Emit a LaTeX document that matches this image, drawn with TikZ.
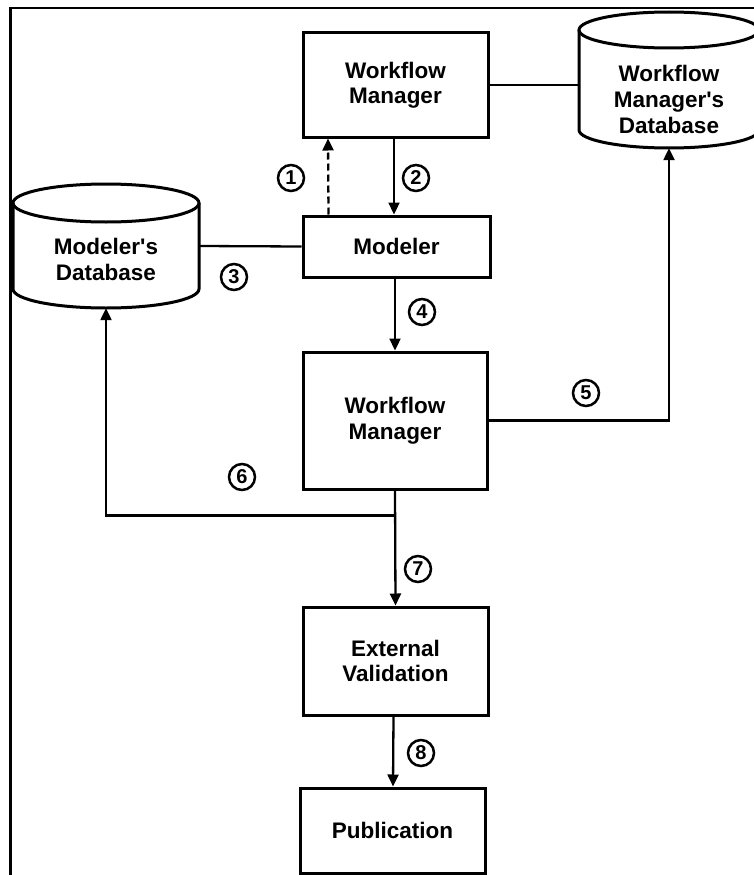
\documentclass[tikz,border=0pt]{standalone}
\usepackage{fontspec}
\newfontfamily\lib{Liberation Sans}
\usetikzlibrary{arrows.meta,calc}
\begin{document}
\begin{tikzpicture}[x=1pt,y=-1pt,
  box/.style={draw,line width=3pt,inner sep=0pt,align=center,
    font=\lib\fontsize{22.5}{25.5}\selectfont\bfseries},
  dbtext/.style={inner sep=0pt,align=center,
    font=\lib\fontsize{22.5}{26}\selectfont\bfseries},
  dbline/.style={line width=3pt},
  num/.style={draw,circle,line width=2.5pt,minimum size=26pt,inner sep=0pt,
    font=\lib\fontsize{20}{20}\selectfont\bfseries},
  conn/.style={line width=2.3pt},
  arr/.style={conn,-{Triangle[length=12pt,width=11pt]}}]
\useasboundingbox (0,0) rectangle (754,875);
\clip (0,0) rectangle (754,875);
% frame
\draw[line width=2.5pt] (10.5,880) -- (10.5,8) -- (760,8);
% boxes
\node[box,minimum width=185pt,minimum height=104pt] (wm1) at (395.5,85) {Workflow\\Manager};
\node[box,minimum width=187pt,minimum height=61pt] (mod) at (396.5,246.5) {Modeler};
\node[box,minimum width=184pt,minimum height=137pt] (wm2) at (395,420.5) {Workflow\\Manager};
\node[box,minimum width=185pt,minimum height=108pt] (ext) at (395.5,661) {External\\Validation};
\node[box,minimum width=185pt,minimum height=85pt] (pub) at (392.5,830.5) {Publication};
% modeler's database
\node[minimum width=186pt,minimum height=124pt,inner sep=0pt] (mdb) at (106,246) {};
\draw[dbline] (13,203) -- (13,289) arc[start angle=180,end angle=360,x radius=93pt,y radius=19pt] -- (199,203);
\draw[dbline] (106,203) ellipse[x radius=93pt,y radius=19pt];
\node[dbtext] (mdbt) at (106,259) {Modeler's\\Database};
% workflow manager's database
\node[minimum width=180pt,minimum height=136pt,inner sep=0pt] (wdb) at (669,80) {};
\draw[dbline] (579,30) -- (579,130) arc[start angle=180,end angle=360,x radius=90pt,y radius=18pt] -- (759,30);
\draw[dbline] (669,30) ellipse[x radius=90pt,y radius=18pt];
\node[dbtext] (wdbt) at (669,99) {Workflow\\Manager's\\Database};
% connectors
\draw[conn] (wm1.east) -- (wm1.east -| wdb.west);
\draw[arr,dash pattern=on 7pt off 4pt] ($(mod.north)+(-68,0)$) -- ($(wm1.south)+(-67.5,0)$);
\draw[arr] ($(wm1.south)+(-1.5,0)$) -- ($(mod.north)+(-2.5,0)$);
\draw[conn] (mdb.east) -- (mod.west);
\draw[arr] (mod.north -| wm2.north) ++(0,61) -- (wm2.north);
\draw[arr] (wm2.east) -| (wdb.south);
\coordinate (j6) at ($(wm2.south)+(0,25)$);
\draw[arr] (j6) -| (mdb.south);
\draw[arr] (wm2.south) -- (ext.north);
\draw[arr] ($(ext.south)+(-2,0)$) -- ($(pub.north)+(0.5,0)$);
% numbers
\node[num] (n1) at (291,178) {1};
\node[num] (n2) at (416,178) {2};
\node[num] (n3) at (234,277) {3};
\node[num] (n4) at (422,312) {4};
\node[num] (n5) at (586,393) {5};
\node[num] (n6) at (242,477) {6};
\node[num] (n7) at (418,569) {7};
\node[num] (n8) at (421,753) {8};
\end{tikzpicture}
\end{document}
